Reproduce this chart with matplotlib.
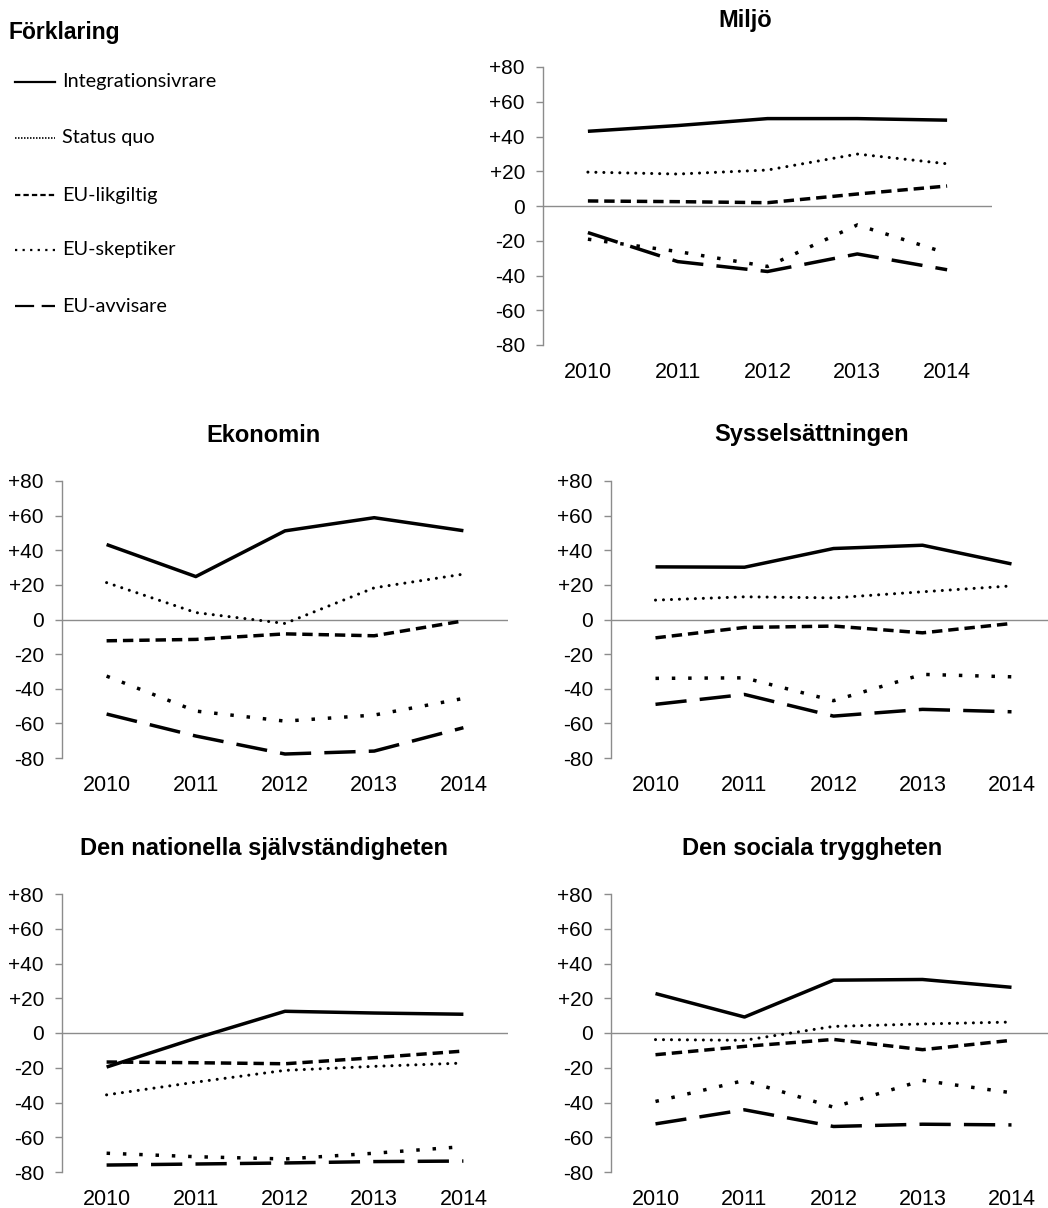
import numpy as np
import matplotlib
matplotlib.use('Agg')
import matplotlib.pyplot as plt
from matplotlib.lines import Line2D

# Data
years = ['2010', '2011', '2012', '2013', '2014']
groups = ['Integrationsivrare', 'Status quo', 'EU-likgiltig', 'EU-skeptiker', 'EU-avvisare']

miljo_integ = [43.0, 46.3, 50.3, 50.3, 49.4]
miljo_status = [19.5, 18.4, 20.7, 29.9, 24.3]
miljo_likgiltig = [2.9, 2.5, 1.9, 6.9, 11.5]
miljo_skeptiker = [-19.1, -26.2, -34.8, -10.9, -27.2]
miljo_avvisare = [-15.3, -32.0, -37.7, -27.6, -36.7]

ekonomi_integ = [43.3, 24.8, 51.2, 58.8, 51.3]
ekonomi_status = [21.3, 4.0, -2.3, 18.3, 26.2]
ekonomi_likgiltig = [-12.3, -11.5, -8.3, -9.4, -0.8]
ekonomi_skeptiker = [-32.7, -52.9, -58.7, -55.2, -45.6]
ekonomi_avvisare = [-54.6, -67.3, -77.7, -76.0, -62.5]

syssel_integ = [30.4, 30.2, 41.0, 42.9, 32.1]
syssel_status = [11.2, 13.1, 12.5, 16.0, 19.4]
syssel_likgiltig = [-10.6, -4.6, -3.8, -7.7, -2.3]
syssel_skeptiker = [-34.0, -33.7, -46.9, -31.7, -33.1]
syssel_avvisare = [-49.0, -43.3, -55.8, -51.9, -53.3]

nation_integ = [-19.6, -3.0, 12.5, 11.5, 10.8]
nation_status = [-35.6, -28.3, -21.5, -19.2, -17.3]
nation_likgiltig = [-16.7, -17.1, -17.7, -14.2, -10.4]
nation_skeptiker = [-69.2, -71.2, -72.5, -69.2, -65.4]
nation_avvisare = [-76.0, -75.4, -74.8, -74.0, -73.7]

social_integ = [22.7, 9.2, 30.4, 30.8, 26.3]
social_status = [-3.8, -4.2, 3.8, 5.2, 6.3]
social_likgiltig = [-12.5, -7.7, -3.7, -9.6, -4.2]
social_skeptiker = [-39.4, -27.3, -42.7, -27.3, -34.4]
social_avvisare = [-52.3, -44.2, -53.8, -52.5, -52.9]

yticks = [-80, -60, -40, -20, 0, 20, 40, 60, 80]
ytick_labels = ['-80', '-60', '-40', '-20', '0', '+20', '+40', '+60', '+80']

W, H = 1048, 1208
fig = plt.figure(figsize=(W / 100, H / 100), dpi=100)

# line styles for each group
styles = [
    dict(linestyle='-', lw=2.5, solid_capstyle='butt'),
    dict(linestyle=(0, (0.01, 2.6)), lw=2.2, dash_capstyle='round'),
    dict(linestyle=(0, (3.0, 1.7)), lw=2.5),
    dict(linestyle=(0, (1.0, 3.7)), lw=2.5),
    dict(linestyle=(0, (9.0, 3.8)), lw=2.5),
]

# panels: title, title centre (px), axes rect (px: left, top, width, height), series
panels = [
    ('Miljö', (745, 20), (543, 67, 449, 278),
     [miljo_integ, miljo_status, miljo_likgiltig, miljo_skeptiker, miljo_avvisare]),
    ('Ekonomin', (264, 435), (62, 481, 446, 277),
     [ekonomi_integ, ekonomi_status, ekonomi_likgiltig, ekonomi_skeptiker, ekonomi_avvisare]),
    ('Sysselsättningen', (812, 435), (611, 481, 445, 277),
     [syssel_integ, syssel_status, syssel_likgiltig, syssel_skeptiker, syssel_avvisare]),
    ('Den nationella självständigheten', (264, 848), (62, 894, 446, 278),
     [nation_integ, nation_status, nation_likgiltig, nation_skeptiker, nation_avvisare]),
    ('Den sociala tryggheten', (812, 848), (611, 894, 445, 278),
     [social_integ, social_status, social_likgiltig, social_skeptiker, social_avvisare]),
]

axis_grey = '#8c8c8c'
x = np.arange(len(years))

for title, (tx, ty), (l, t, w, h), series in panels:
    ax = fig.add_axes([l / W, 1 - (t + h) / H, w / W, h / H])
    ax.axhline(0, color=axis_grey, lw=1.0, zorder=1)
    for vals, st in zip(series, styles):
        ax.plot(x, vals, color='black', zorder=3, **st)
    ax.set_xlim(-0.5, len(years) - 0.5)
    ax.set_ylim(-80, 80)
    ax.set_yticks(yticks)
    ax.set_yticklabels(ytick_labels, family='Liberation Sans', fontsize=15)
    ax.set_xticks(x)
    ax.set_xticklabels(years, family='Liberation Sans', fontsize=15.5)
    ax.tick_params(axis='y', length=5, width=1, color=axis_grey, pad=8)
    ax.tick_params(axis='x', length=0, pad=12)
    for side in ['top', 'right', 'bottom']:
        ax.spines[side].set_visible(False)
    ax.spines['left'].set_color(axis_grey)
    ax.spines['left'].set_linewidth(1.0)
    ax.patch.set_alpha(0)
    fig.text(tx / W, 1 - ty / H, title, ha='center', va='center',
             family='Liberation Sans', fontweight='bold', fontsize=17)

# hand-drawn legend in the top left corner
fig.text(8 / W, 1 - 32 / H, 'Förklaring', ha='left', va='center',
         family='Liberation Sans', fontweight='bold', fontsize=16.5)

legend_y = [82, 138, 195, 250, 306]
legend_styles = [
    dict(linestyle='-', lw=1.6),
    dict(linestyle=(0, (0.9, 0.9)), lw=1.2),
    dict(linestyle=(0, (2.4, 1.4)), lw=1.6),
    dict(linestyle=(0, (1.0, 2.4)), lw=1.6),
    dict(linestyle=(0, (8.6, 3.4)), lw=1.6),
]
for name, ly, st in zip(groups, legend_y, legend_styles):
    yy = 1 - ly / H
    fig.add_artist(Line2D([15 / W, 55 / W], [yy, yy], color='black', **st))
    fig.text(62 / W, yy, name, ha='left', va='center', family='Lato', fontsize=14.3)

fig.savefig('out.png', dpi=100)
